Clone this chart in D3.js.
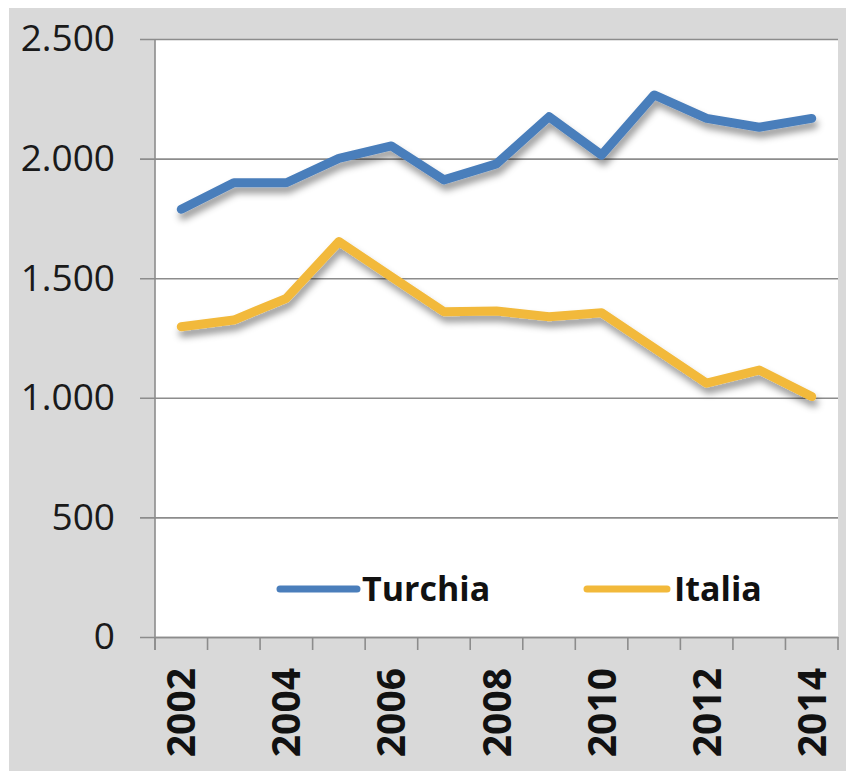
<!DOCTYPE html>
<html>
<head>
<meta charset="utf-8">
<script src="https://cdn.jsdelivr.net/npm/d3@7"></script>
<style>
  html, body { margin: 0; padding: 0; background: #ffffff; }
  svg { display: block; }
</style>
</head>
<body>
<svg id="chart" width="846" height="771"></svg>
<script>
// Données
const years = [2002, 2003, 2004, 2005, 2006, 2007, 2008, 2009, 2010, 2011, 2012, 2013, 2014];
const turchia = [1788, 1899, 1899, 2001, 2053, 1911, 1978, 2175, 2015, 2266, 2168, 2131, 2168];
const italia = [1297, 1325, 1416, 1653, 1506, 1360, 1363, 1339, 1356, 1208, 1061, 1116, 1005];
const yTicks = [0, 500, 1000, 1500, 2000, 2500];
const xLabels = [2002, 2004, 2006, 2008, 2010, 2012, 2014];
const seriesNames = ['Turchia', 'Italia'];

const colors = { Turchia: '#4a7ebb', Italia: '#f2b93b' };

const width = 846;
const height = 771;
const plot = { left: 155, right: 838, top: 39, bottom: 637 };

const svg = d3.select('#chart');

// Ombre portée des courbes
const defs = svg.append('defs');
defs.append('filter')
  .attr('id', 'shadow')
  .attr('x', '-10%').attr('y', '-30%')
  .attr('width', '120%').attr('height', '160%')
  .append('feDropShadow')
  .attr('dx', 2)
  .attr('dy', 6)
  .attr('stdDeviation', 3.5)
  .attr('flood-color', '#000')
  .attr('flood-opacity', 0.4);

// Fond gris
svg.append('rect')
  .attr('x', 9).attr('y', 8)
  .attr('width', width - 9).attr('height', height - 8)
  .attr('fill', '#d9d9d9');

// Zone de tracé
svg.append('rect')
  .attr('x', plot.left).attr('y', plot.top)
  .attr('width', plot.right - plot.left).attr('height', plot.bottom - plot.top)
  .attr('fill', '#ffffff');

// Échelles
const x = d3.scaleBand()
  .domain(years)
  .range([plot.left, plot.right])
  .padding(0);

const y = d3.scaleLinear()
  .domain([0, 2500])
  .range([plot.bottom, plot.top]);

const locale = d3.formatLocale({ decimal: ',', thousands: '.', grouping: [3], currency: ['', '€'] });
const fmt = locale.format(',');

// Lignes de grille et axe Y
const yAxis = svg.append('g')
  .attr('transform', `translate(${plot.left},0)`)
  .call(d3.axisLeft(y)
    .tickValues(yTicks)
    .tickFormat(fmt)
    .tickSize(-(plot.right - plot.left))
    .tickSizeOuter(0)
    .tickPadding(40));

yAxis.select('.domain').remove();
yAxis.selectAll('.tick line')
  .attr('x1', -15)
  .attr('stroke', '#8c8c8c')
  .attr('stroke-width', 1.6);
yAxis.selectAll('.tick text')
  .attr('fill', '#1a1a1a')
  .style('font-family', '"Open Sans", sans-serif')
  .style('font-size', '37px');

// Axe vertical
svg.append('line')
  .attr('x1', plot.left).attr('x2', plot.left)
  .attr('y1', plot.top).attr('y2', plot.bottom + 13)
  .attr('stroke', '#8c8c8c')
  .attr('stroke-width', 1.6);

// Graduations entre les catégories
const boundaries = years.map(d => x(d)).concat([plot.right]);
svg.append('g')
  .selectAll('line')
  .data(boundaries)
  .enter()
  .append('line')
  .attr('x1', d => d).attr('x2', d => d)
  .attr('y1', plot.bottom).attr('y2', plot.bottom + 13)
  .attr('stroke', '#8c8c8c')
  .attr('stroke-width', 1.6);

// Axe X (libellés verticaux)
const xAxis = svg.append('g')
  .attr('transform', `translate(0,${plot.bottom})`)
  .call(d3.axisBottom(x)
    .tickValues(xLabels)
    .tickSize(0)
    .tickSizeOuter(0));

xAxis.select('.domain')
  .attr('stroke', '#8c8c8c')
  .attr('stroke-width', 1.6);
xAxis.selectAll('.tick text')
  .attr('transform', 'rotate(-90)')
  .attr('x', -31)
  .attr('y', 0)
  .attr('dy', '0.36em')
  .attr('text-anchor', 'end')
  .attr('fill', '#111')
  .style('font-family', '"Open Sans", sans-serif')
  .style('font-weight', 'bold')
  .style('font-size', '39px');

// Courbes
const line = d3.line()
  .x((d, i) => x(years[i]) + x.bandwidth() / 2)
  .y(d => y(d));

const series = [
  { name: 'Turchia', values: turchia },
  { name: 'Italia', values: italia }
];

svg.append('g')
  .selectAll('path')
  .data(series)
  .enter()
  .append('path')
  .attr('d', d => line(d.values))
  .attr('fill', 'none')
  .attr('stroke', d => colors[d.name])
  .attr('stroke-width', 9)
  .attr('stroke-linejoin', 'round')
  .attr('stroke-linecap', 'round')
  .attr('filter', 'url(#shadow)');

// Légende
const legendPos = [
  { name: seriesNames[0], x1: 280, x2: 357, tx: 362 },
  { name: seriesNames[1], x1: 587, x2: 667, tx: 674 }
];
const legendY = 589;

const legend = svg.append('g')
  .selectAll('g')
  .data(legendPos)
  .enter()
  .append('g');

legend.append('line')
  .attr('x1', d => d.x1).attr('x2', d => d.x2)
  .attr('y1', legendY).attr('y2', legendY)
  .attr('stroke', d => colors[d.name])
  .attr('stroke-width', 7)
  .attr('stroke-linecap', 'round');

legend.append('text')
  .attr('x', d => d.tx)
  .attr('y', legendY)
  .attr('dy', '0.35em')
  .attr('fill', '#111')
  .style('font-family', '"Open Sans", sans-serif')
  .style('font-weight', 'bold')
  .style('font-size', '34px')
  .text(d => d.name);
</script>
</body>
</html>
